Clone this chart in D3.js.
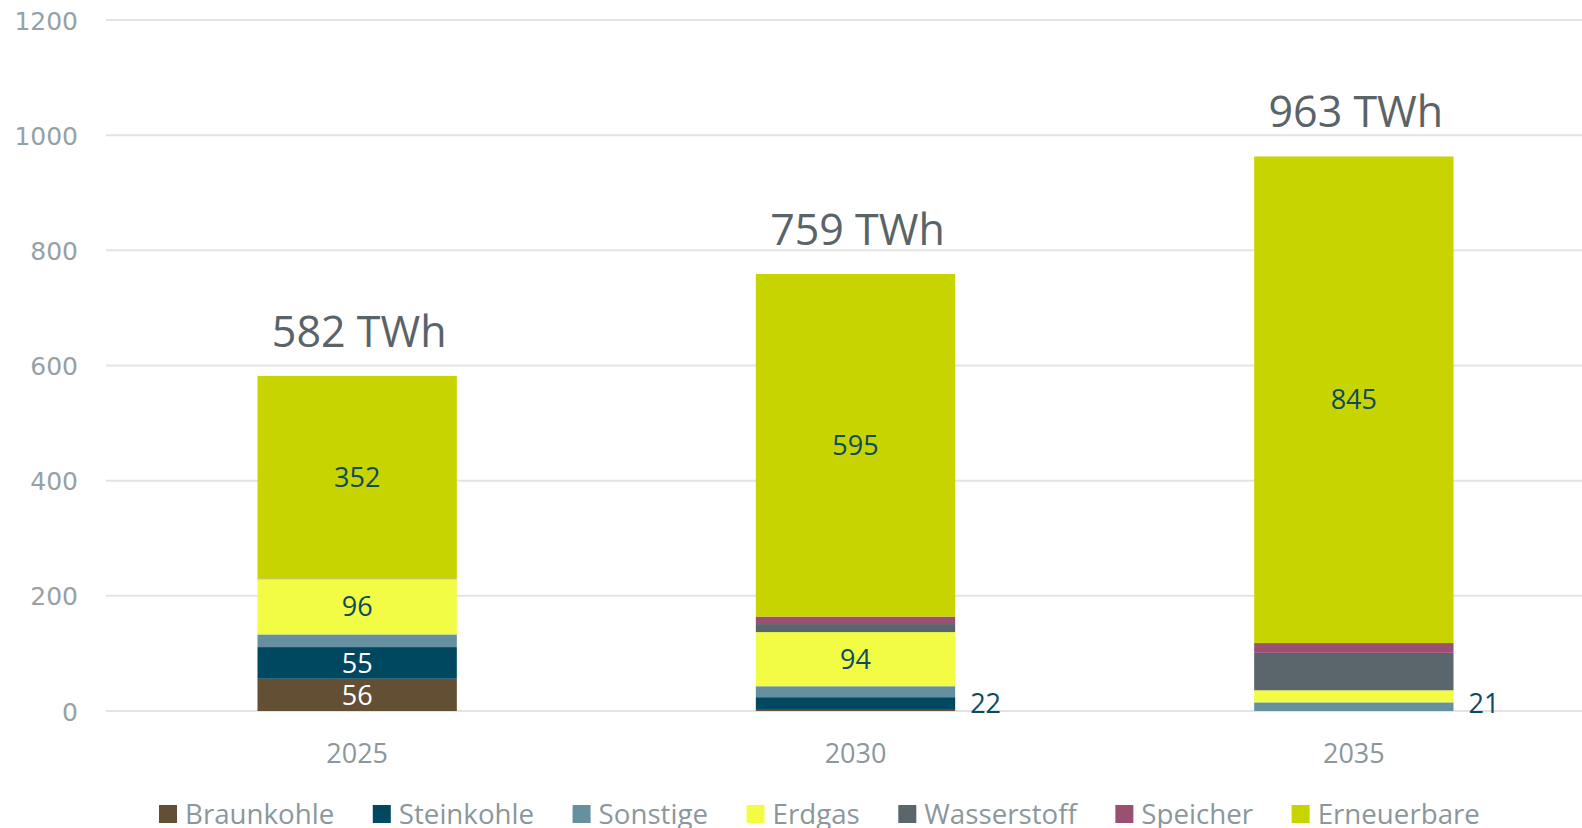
<!DOCTYPE html>
<html><head><meta charset="utf-8">
<script src="https://cdn.jsdelivr.net/npm/d3@7"></script>
<style>html,body{margin:0;padding:0;background:#fff;overflow:hidden}</style>
</head><body><svg id="chart" width="1582" height="828"></svg>
<script>
const years = ["2025","2030","2035"];
const seriesNames = ["Braunkohle","Steinkohle","Sonstige","Erdgas","Wasserstoff","Speicher","Erneuerbare"];
const braunkohle  = [56, 2, 0];
const steinkohle  = [55, 22, 0];
const sonstige    = [22, 19, 15];
const erdgas      = [96, 94, 21];
const wasserstoff = [0, 14, 65];
const speicher    = [1, 13, 17];
const erneuerbare = [352, 595, 845];
const totals = [582, 759, 963];
const yTicks = [0, 200, 400, 600, 800, 1000, 1200];
const labelsInside = [[0,"Braunkohle"],[0,"Steinkohle"],[0,"Erdgas"],[0,"Erneuerbare"],[1,"Erdgas"],[1,"Erneuerbare"],[2,"Erneuerbare"]];
const labelsOutside = [[1,"Steinkohle"],[2,"Erdgas"]];

const colors = {Braunkohle:"#634f33",Steinkohle:"#00485f",Sonstige:"#6690a0",Erdgas:"#f2fc45",Wasserstoff:"#5b666c",Speicher:"#9a5073",Erneuerbare:"#c8d400"};
const labelColors = {Braunkohle:"#ffffff",Steinkohle:"#ffffff"};
const darkText = "#0c4a62", grey = "#8b979b";

const values = [braunkohle,steinkohle,sonstige,erdgas,wasserstoff,speicher,erneuerbare];
const rows = years.map((yr,i)=>{const o={year:yr}; seriesNames.forEach((s,k)=>o[s]=values[k][i]); return o;});
const stacked = d3.stack().keys(seriesNames)(rows);

const svg = d3.select("#chart");
const x = d3.scaleBand().domain(years).range([108,1603]).paddingInner(0.6).paddingOuter(0.3);
const y = d3.scaleLinear().domain([0,1200]).range([711,20]);

svg.append("g").selectAll("line").data(yTicks).join("line")
  .attr("x1",106).attr("x2",1582).attr("y1",d=>y(d)).attr("y2",d=>y(d))
  .attr("stroke","#e3e3e3").attr("stroke-width",2);

const yAxis = d3.axisLeft(y).tickValues(yTicks).tickFormat(d3.format("d")).tickSize(0).tickPadding(0);
const ga = svg.append("g").attr("transform","translate(78,0)").call(yAxis);
ga.select(".domain").remove();
ga.selectAll("text").attr("font-family","'DejaVu Sans'").attr("font-size",25).attr("fill","#96a1a5").attr("dy","0.36em");

svg.append("g").selectAll("g").data(stacked).join("g").attr("fill",d=>colors[d.key])
  .selectAll("rect").data(d=>d).join("rect")
  .attr("x",d=>x(d.data.year)).attr("width",x.bandwidth())
  .attr("y",d=>y(d[1])).attr("height",d=>y(d[0])-y(d[1]));

const segOf = (i,s)=>stacked[seriesNames.indexOf(s)][i];
const font = "'Open Sans'";

svg.append("g").selectAll("text").data(labelsInside).join("text")
  .attr("x",d=>x(years[d[0]])+x.bandwidth()/2)
  .attr("y",d=>{const sg=segOf(d[0],d[1]);return y((sg[0]+sg[1])/2);})
  .attr("dy","0.36em").attr("text-anchor","middle")
  .attr("font-family",font).attr("font-size",27)
  .attr("fill",d=>labelColors[d[1]]||darkText)
  .text(d=>values[seriesNames.indexOf(d[1])][d[0]]);

svg.append("g").selectAll("text").data(labelsOutside).join("text")
  .attr("x",d=>x(years[d[0]])+x.bandwidth()+15)
  .attr("y",y(0)-8)
  .attr("dy","0.36em").attr("text-anchor","start")
  .attr("font-family",font).attr("font-size",27).attr("fill",darkText)
  .text(d=>values[seriesNames.indexOf(d[1])][d[0]]);

svg.append("g").selectAll("text").data(totals).join("text")
  .attr("x",(d,i)=>x(years[i])+x.bandwidth()/2+2)
  .attr("y",d=>y(d)-29)
  .attr("text-anchor","middle")
  .attr("font-family",font).attr("font-size",43).attr("fill","#5a6367")
  .text(d=>d+" TWh");

const xAxis = d3.axisBottom(x).tickSize(0).tickPadding(0);
const gx = svg.append("g").attr("transform","translate(0,753)").call(xAxis);
gx.select(".domain").remove();
gx.selectAll("text").attr("font-family",font).attr("font-size",27).attr("fill",grey).attr("dy","0.36em");

const lg = svg.append("g").attr("transform","translate(159,815)");
let lx = 0;
seriesNames.forEach(s=>{
  const g = lg.append("g").attr("transform",`translate(${lx},0)`);
  g.append("rect").attr("x",0).attr("y",-10).attr("width",18).attr("height",18).attr("fill",colors[s]);
  const t = g.append("text").attr("x",26).attr("y",9)
    .attr("font-family",font).attr("font-size",27.7).attr("fill",grey).text(s);
  lx += 26 + t.node().getComputedTextLength() + 38.5;
});
</script></body></html>
